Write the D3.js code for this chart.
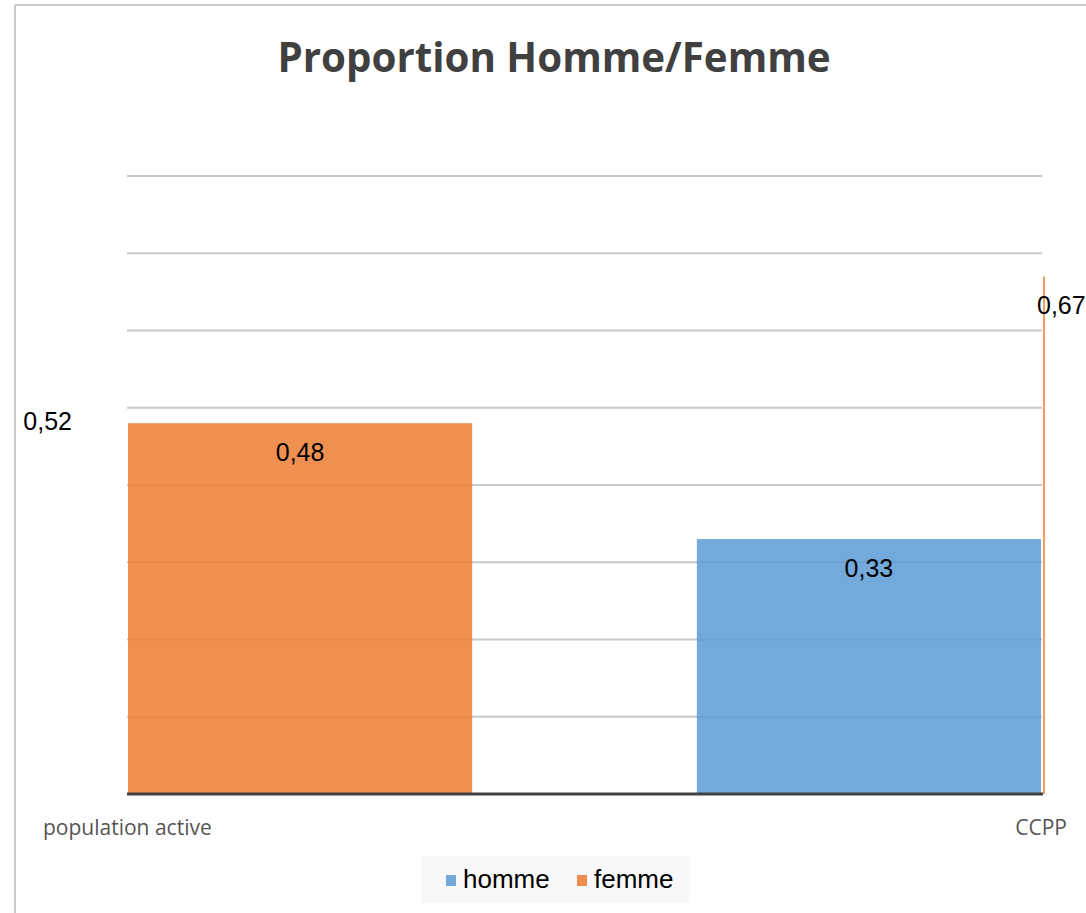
<!DOCTYPE html>
<html>
<head>
<meta charset="utf-8">
<script src="https://cdn.jsdelivr.net/npm/d3@7"></script>
<style>
  body { margin: 0; background: #fff; }
  svg { display: block; }
</style>
</head>
<body>
<svg id="svg" width="1086" height="913"></svg>
<script>
// chart values
var categories = ["population active", "CCPP"];
var seriesNames = ["homme", "femme"];
var homme = [0.52, 0.33];
var femme = [0.48, 0.67];
var yTicks = [0.1, 0.2, 0.3, 0.4, 0.5, 0.6, 0.7, 0.8];
// which series fills the category slot (the other collapses to the slot edge)
var fullSeries = ["femme", "homme"];

var colors = { homme: "#5B9BD5", femme: "#ED7D31" };

var svg = d3.select("#svg");
var width = 1086, height = 913;

var locale = d3.formatLocale({ decimal: ",", thousands: " ", grouping: [3], currency: ["", " €"] });
var fmt = locale.format(".2f");

// outer chart border (only top and left visible)
svg.append("line").attr("x1", 15).attr("x2", width).attr("y1", 5).attr("y2", 5)
  .attr("stroke", "#c9c9c9").attr("stroke-width", 2);
svg.append("line").attr("x1", 15).attr("x2", 15).attr("y1", 5).attr("y2", height)
  .attr("stroke", "#c9c9c9").attr("stroke-width", 2);

// title
svg.append("text")
  .attr("x", 554).attr("y", 72)
  .attr("text-anchor", "middle")
  .style("font-family", "'Open Sans', sans-serif")
  .style("font-weight", "bold")
  .style("font-size", "40.3px")
  .style("fill", "#404040")
  .text("Proportion Homme/Femme");

var y = d3.scaleLinear().domain([0, 0.8]).range([794, 176]);
var x = d3.scaleBand().domain(categories).range([128, 1041])
  .paddingInner(0.395).paddingOuter(0);

// gridlines
svg.append("g")
  .selectAll("line")
  .data(yTicks)
  .join("line")
  .attr("x1", 127).attr("x2", 1042)
  .attr("y1", d => y(d)).attr("y2", d => y(d))
  .attr("stroke", "#c8c8c8").attr("stroke-width", 2);

// bars
var bars = [];
categories.forEach(function (c, i) {
  seriesNames.forEach(function (s) {
    var v = s === "homme" ? homme[i] : femme[i];
    bars.push({ cat: c, series: s, value: v, full: fullSeries[i] === s });
  });
});

function barX(d) {
  if (d.full) return x(d.cat);
  return d.series === "homme" ? x(d.cat) : x(d.cat) + x.bandwidth() + 3;
}

svg.append("g")
  .selectAll("rect")
  .data(bars.filter(d => d.full))
  .join("rect")
  .attr("x", d => barX(d))
  .attr("width", x.bandwidth())
  .attr("y", d => y(d.value))
  .attr("height", d => y(0) - y(d.value))
  .attr("fill", d => colors[d.series])
  .attr("fill-opacity", 0.85);

// collapsed bars drawn as a hairline
svg.append("g")
  .selectAll("line")
  .data(bars.filter(d => !d.full && d.series === "femme"))
  .join("line")
  .attr("x1", d => barX(d)).attr("x2", d => barX(d))
  .attr("y1", d => y(d.value)).attr("y2", y(0))
  .attr("stroke", d => colors[d.series]).attr("stroke-width", 1.5);

// baseline axis
svg.append("line")
  .attr("x1", 127).attr("x2", 1043)
  .attr("y1", y(0)).attr("y2", y(0))
  .attr("stroke", "#404040").attr("stroke-width", 3);

// data labels
svg.append("g")
  .selectAll("text")
  .data(bars)
  .join("text")
  .attr("x", function (d) {
    if (d.full) return barX(d) + x.bandwidth() / 2;
    return d.series === "homme" ? barX(d) - 56 : barX(d) - 7;
  })
  .attr("y", d => y(d.value) + 38)
  .attr("text-anchor", function (d) {
    if (d.full) return "middle";
    return d.series === "homme" ? "end" : "start";
  })
  .style("font-family", "'Liberation Sans', Arial, sans-serif")
  .style("font-size", "25px")
  .style("fill", "#000")
  .text(d => fmt(d.value));

// category labels
svg.append("text")
  .attr("x", 43).attr("y", 835)
  .style("font-family", "'Open Sans', sans-serif")
  .style("font-size", "21px")
  .style("fill", "#555")
  .text(categories[0]);
svg.append("text")
  .attr("x", 1067).attr("y", 835)
  .attr("text-anchor", "end")
  .style("font-family", "'Open Sans', sans-serif")
  .style("font-size", "21px")
  .style("fill", "#555")
  .text(categories[1]);

// legend
var legend = svg.append("g");
legend.append("rect")
  .attr("x", 421).attr("y", 856).attr("width", 269).attr("height", 47)
  .attr("fill", "#f8f8f8");
var legendX = [446, 577];
seriesNames.forEach(function (s, i) {
  legend.append("rect")
    .attr("x", legendX[i]).attr("y", 875).attr("width", 10).attr("height", 11)
    .attr("fill", colors[s]).attr("fill-opacity", 0.85);
  legend.append("text")
    .attr("x", legendX[i] + 17).attr("y", 888)
    .style("font-family", "'Liberation Sans', Arial, sans-serif")
    .style("font-size", "26px")
    .style("fill", "#000")
    .text(s);
});
</script>
</body>
</html>
